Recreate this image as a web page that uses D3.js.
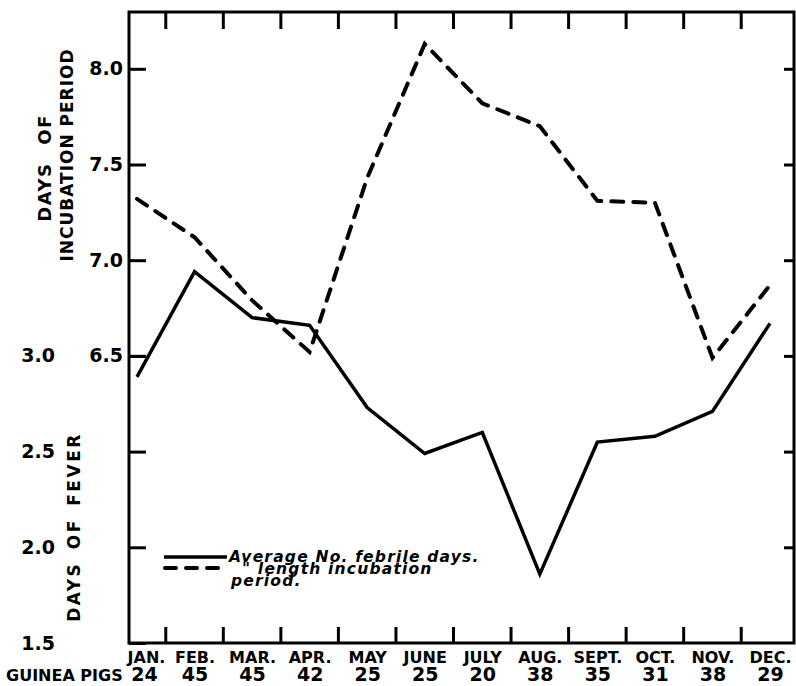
<!DOCTYPE html>
<html>
<head>
<meta charset="utf-8">
<script src="https://cdn.jsdelivr.net/npm/d3@7"></script>
<style>
  body { margin: 0; background: #fff; }
  svg { display: block; }
  .tick text { font-family: "DejaVu Sans", sans-serif; font-weight: bold; fill: #000; }
  .title { font-family: "DejaVu Sans", sans-serif; font-weight: bold; font-size: 17px; fill: #000; }
  .legend text { font-family: "DejaVu Sans", sans-serif; font-weight: bold; font-style: oblique; font-size: 15.5px; letter-spacing: 1.2px; fill: #000; }
</style>
</head>
<body>
<div id="chart"></div>
<script>
const months = ['JAN.', 'FEB.', 'MAR.', 'APR.', 'MAY', 'JUNE', 'JULY', 'AUG.', 'SEPT.', 'OCT.', 'NOV.', 'DEC.'];
const guineaPigs = [24, 45, 45, 42, 25, 25, 20, 38, 35, 31, 38, 29];

// average number of febrile days (solid line, lower scale)
const feverDays = [2.89, 3.44, 3.20, 3.16, 2.73, 2.49, 2.60, 1.86, 2.55, 2.58, 2.71, 3.17];
// average length of incubation period (dashed line, upper scale)
const incubationDays = [7.32, 7.12, 6.79, 6.52, 7.43, 8.13, 7.82, 7.70, 7.31, 7.30, 6.49, 6.87];

const incubationTicks = [6.5, 7.0, 7.5, 8.0];
const feverTicks = [1.5, 2.0, 2.5, 3.0];
const rightTicks = [2.0, 2.5, 3.0, 3.5, 4.0, 4.5];

const width = 796;
const height = 686;
const margin = { top: 12, right: 2, bottom: 43, left: 129 };

const innerW = width - margin.left - margin.right;
const innerH = height - margin.top - margin.bottom;

const svg = d3.select('#chart')
  .append('svg')
  .attr('width', width)
  .attr('height', height);

const g = svg.append('g')
  .attr('transform', `translate(${margin.left},${margin.top})`);

const x = d3.scalePoint()
  .domain(months)
  .range([8, 641]);

// both vertical scales share the same unit length, offset by 3.5 days
const feverMax = 1.5 + innerH / 191.4;
const yFever = d3.scaleLinear()
  .domain([1.5, feverMax])
  .range([innerH, 0]);

const yIncubation = d3.scaleLinear()
  .domain([5.0, feverMax + 3.5])
  .range([innerH, 0]);

// frame
g.append('rect')
  .attr('width', innerW)
  .attr('height', innerH)
  .attr('fill', 'none')
  .attr('stroke', '#000')
  .attr('stroke-width', 3);

// left axis: incubation
g.append('g')
  .call(d3.axisLeft(yIncubation)
    .tickValues(incubationTicks)
    .tickSize(-17)
    .tickPadding(6)
    .tickFormat(d3.format('.1f')))
  .call(s => s.select('.domain').remove())
  .call(s => s.selectAll('.tick line').attr('stroke-width', 3))
  .call(s => s.selectAll('.tick text').attr('font-size', 19));

// left axis: fever
g.append('g')
  .call(d3.axisLeft(yFever)
    .tickValues(feverTicks)
    .tickSize(-17)
    .tickPadding(74)
    .tickFormat(d3.format('.1f')))
  .call(s => s.select('.domain').remove())
  .call(s => s.selectAll('.tick line').attr('stroke-width', 3))
  .call(s => s.selectAll('.tick text').attr('font-size', 19));

// right axis: ticks only
g.append('g')
  .attr('transform', `translate(${innerW},0)`)
  .call(d3.axisRight(yFever)
    .tickValues(rightTicks)
    .tickSize(-10)
    .tickFormat(''))
  .call(s => s.select('.domain').remove())
  .call(s => s.selectAll('.tick line').attr('stroke-width', 3));

// month boundary ticks, top and bottom
const bounds = months.slice(1).map((m, i) => (x(months[i]) + x(m)) / 2);

g.append('g')
  .selectAll('line.bottom')
  .data(bounds)
  .enter()
  .append('line')
  .attr('x1', d => d)
  .attr('x2', d => d)
  .attr('y1', innerH)
  .attr('y2', innerH - 16)
  .attr('stroke', '#000')
  .attr('stroke-width', 3);

g.append('g')
  .selectAll('line.top')
  .data(bounds)
  .enter()
  .append('line')
  .attr('x1', d => d)
  .attr('x2', d => d)
  .attr('y1', 0)
  .attr('y2', 17)
  .attr('stroke', '#000')
  .attr('stroke-width', 3);

// month labels
g.append('g')
  .attr('transform', `translate(0,${innerH})`)
  .call(d3.axisBottom(x).tickSize(0).tickPadding(9))
  .call(s => s.select('.domain').remove())
  .call(s => s.selectAll('.tick text').attr('font-size', 16))
  .call(s => s.select('.tick text').attr('dx', 9));

// guinea pig counts
const pigsByMonth = {};
months.forEach((m, i) => { pigsByMonth[m] = guineaPigs[i]; });

g.append('g')
  .attr('transform', `translate(0,${innerH})`)
  .call(d3.axisBottom(x).tickSize(0).tickPadding(25).tickFormat(m => pigsByMonth[m]))
  .call(s => s.select('.domain').remove())
  .call(s => s.selectAll('.tick text').attr('font-size', 19))
  .call(s => s.select('.tick text').attr('dx', 7));

svg.append('text')
  .attr('class', 'title')
  .attr('x', 6)
  .attr('y', 681)
  .style('font-size', '16px')
  .text('GUINEA PIGS');

// axis titles
svg.append('text')
  .attr('class', 'title')
  .attr('transform', 'translate(51,168) rotate(-90)')
  .attr('text-anchor', 'middle')
  .style('font-size', '18px')
  .style('letter-spacing', '1.5px')
  .style('word-spacing', '10px')
  .text('DAYS OF');

svg.append('text')
  .attr('class', 'title')
  .attr('transform', 'translate(73,155) rotate(-90)')
  .attr('text-anchor', 'middle')
  .style('letter-spacing', '1px')
  .text('INCUBATION PERIOD');

svg.append('text')
  .attr('class', 'title')
  .attr('transform', 'translate(80,527) rotate(-90)')
  .attr('text-anchor', 'middle')
  .style('letter-spacing', '2.5px')
  .style('word-spacing', '4px')
  .text('DAYS OF FEVER');

// lines
const feverLine = d3.line()
  .x((d, i) => x(months[i]))
  .y(d => yFever(d));

const incubationLine = d3.line()
  .x((d, i) => x(months[i]))
  .y(d => yIncubation(d));

g.append('path')
  .datum(incubationDays)
  .attr('d', incubationLine)
  .attr('fill', 'none')
  .attr('stroke', '#000')
  .attr('stroke-width', 4)
  .attr('stroke-linecap', 'round')
  .attr('stroke-dasharray', '12,10');

g.append('path')
  .datum(feverDays)
  .attr('d', feverLine)
  .attr('fill', 'none')
  .attr('stroke', '#000')
  .attr('stroke-width', 3.5);

// legend
const legend = svg.append('g').attr('class', 'legend');

legend.append('line')
  .attr('x1', 164).attr('x2', 227)
  .attr('y1', 557).attr('y2', 557)
  .attr('stroke', '#000')
  .attr('stroke-width', 3.5);

legend.append('line')
  .attr('x1', 165).attr('x2', 220)
  .attr('y1', 568).attr('y2', 568)
  .attr('stroke', '#000')
  .attr('stroke-width', 4)
  .attr('stroke-linecap', 'round')
  .attr('stroke-dasharray', '11,10');

legend.append('text').attr('x', 229).attr('y', 562).text('Average No. febrile days.');
legend.append('text').attr('x', 242).attr('y', 574).text('" length incubation');
legend.append('text').attr('x', 231).attr('y', 586).text('period.');
</script>
</body>
</html>
